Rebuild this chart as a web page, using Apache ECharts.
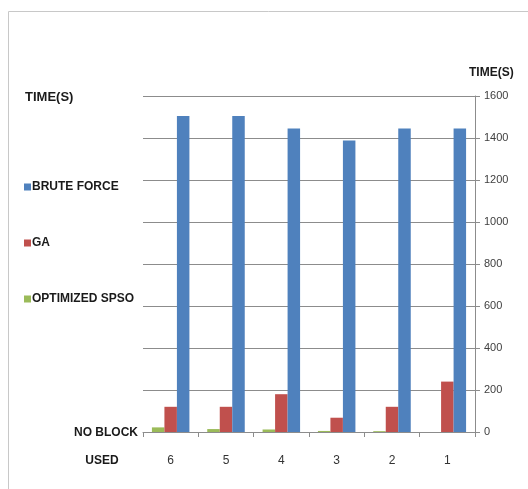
<!DOCTYPE html>
<html>
<head>
<meta charset="utf-8">
<script src="https://cdn.jsdelivr.net/npm/echarts@6/dist/echarts.min.js"></script>
<style>
  html, body { margin: 0; padding: 0; background: #fff; }
  #chart { width: 528px; height: 489px; }
</style>
</head>
<body>
<div id="chart"></div>
<script>
  // blocks used, as printed left to right
  const blocks = ['6', '5', '4', '3', '2', '1'];
  const bruteForce = [1505, 1505, 1445, 1388, 1445, 1445];
  const ga = [120, 120, 180, 68, 120, 240];
  const optimizedSpso = [22, 14, 12, 5, 4, 0];
  const yTicks = [0, 200, 400, 600, 800, 1000, 1200, 1400, 1600];

  const font = '"Liberation Sans", Arial, sans-serif';
  const chart = echarts.init(document.getElementById('chart'));

  const option = {
    animation: false,
    textStyle: { fontFamily: font },
    color: ['#9BBB59', '#C0504D', '#4F81BD'],
    title: {
      text: 'TIME(S)',
      left: 20,
      top: 86,
      textStyle: { fontFamily: font, fontSize: 13, fontWeight: 'bold', color: '#1a1a1a' }
    },
    legend: {
      orient: 'vertical',
      left: 19,
      top: 176,
      itemGap: 44,
      itemWidth: 7,
      itemHeight: 7,
      icon: 'rect',
      data: ['BRUTE FORCE', 'GA', 'OPTIMIZED SPSO'],
      textStyle: { fontFamily: font, fontSize: 12, fontWeight: 'bold', color: '#1a1a1a', padding: [0, 0, 0, -4] }
    },
    graphic: [
      {
        type: 'rect',
        shape: { x: 8.5, y: 11.5, width: 540, height: 500 },
        style: { fill: 'none', stroke: '#c8c8c8', lineWidth: 1 },
        silent: true
      },
      {
        type: 'text',
        x: 138,
        y: 433,
        style: { text: 'NO BLOCK', fontFamily: font, fontSize: 12, fontWeight: 'bold', fill: '#1a1a1a', align: 'right', verticalAlign: 'middle' }
      },
      {
        type: 'text',
        x: 102,
        y: 461,
        style: { text: 'USED', fontFamily: font, fontSize: 12, fontWeight: 'bold', fill: '#1a1a1a', align: 'center', verticalAlign: 'middle' }
      }
    ],
    grid: { left: 143, right: 53, top: 96, bottom: 57 },
    xAxis: {
      type: 'category',
      data: blocks,
      axisLine: { lineStyle: { color: '#8c8c8c', width: 1 } },
      axisTick: { show: true, length: 5, lineStyle: { color: '#8c8c8c' } },
      axisLabel: { margin: 23, fontSize: 12, color: '#333', fontFamily: font }
    },
    yAxis: {
      type: 'value',
      position: 'right',
      min: yTicks[0],
      max: yTicks[yTicks.length - 1],
      interval: 200,
      name: 'TIME(S)',
      nameLocation: 'end',
      nameGap: 17,
      nameTextStyle: { fontFamily: font, fontSize: 12, fontWeight: 'bold', color: '#1a1a1a', align: 'left', padding: [0, 0, 0, -6] },
      axisLine: { show: true, lineStyle: { color: '#8c8c8c', width: 1 } },
      axisTick: { show: true, length: 5, lineStyle: { color: '#8c8c8c' } },
      axisLabel: { margin: 9, fontSize: 11, color: '#404040', fontFamily: font, formatter: v => String(v) },
      splitLine: { show: true, lineStyle: { color: '#8c8c8c', width: 1 } }
    },
    series: [
      { name: 'OPTIMIZED SPSO', type: 'bar', data: optimizedSpso, barWidth: 12.5, barGap: '0%' },
      { name: 'GA', type: 'bar', data: ga, barWidth: 12.5, barGap: '0%' },
      { name: 'BRUTE FORCE', type: 'bar', data: bruteForce, barWidth: 12.5, barGap: '0%' }
    ]
  };

  chart.setOption(option);
</script>
</body>
</html>
